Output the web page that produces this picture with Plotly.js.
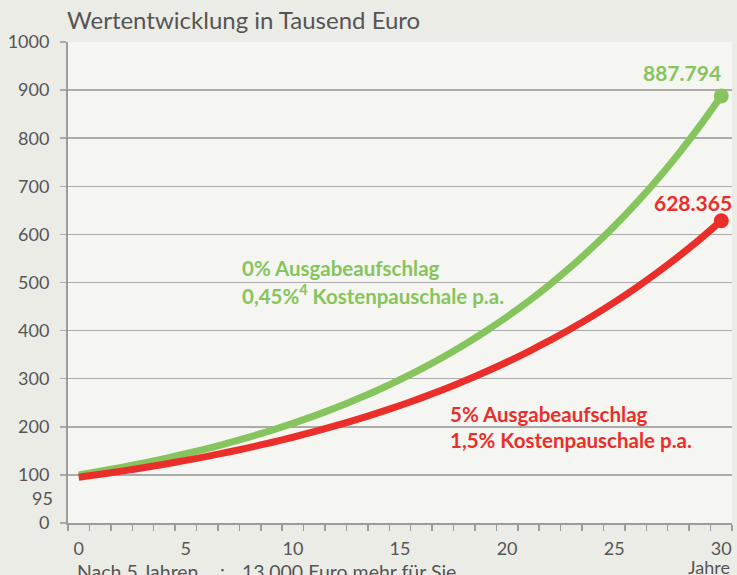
<!DOCTYPE html>
<html>
<head>
<meta charset="utf-8">
<script src="https://cdn.plot.ly/plotly-3.0.1.min.js"></script>
<style>
html,body{margin:0;padding:0;background:#ecece7;}
#chart{width:737px;height:575px;}
</style>
</head>
<body>
<div id="chart"></div>
<script>
// Data
var years = [0,1,2,3,4,5,6,7,8,9,10,11,12,13,14,15,16,17,18,19,20,21,22,23,24,25,26,27,28,29,30];
var greenValues = [100.0,107.6,115.7,124.4,133.8,143.9,154.8,166.4,179.0,192.5,207.1,222.7,239.5,257.6,277.0,298.0,320.5,344.6,370.7,398.7,428.8,461.1,495.9,533.4,573.7,617.0,663.5,713.6,767.5,825.5,887.794];
var redValues = [95.0,101.2,107.8,114.8,122.2,130.2,138.6,147.6,157.2,167.4,178.3,189.9,202.3,215.4,229.4,244.3,260.2,277.1,295.1,314.3,334.7,356.5,379.7,404.4,430.6,458.6,488.4,520.2,554.0,590.0,628.365];
var xTickVals = [0,5,10,15,20,25,30];
var yTickVals = [0,100,200,300,400,500,600,700,800,900,1000];
var greenEndLabel = "887.794";
var redEndLabel = "628.365";
var titleText = "Wertentwicklung in Tausend Euro";
var greenText1 = "0% Ausgabeaufschlag";
var greenText2 = "0,45%<sup>4</sup> Kostenpauschale p.a.";
var redText1 = "5% Ausgabeaufschlag";
var redText2 = "1,5% Kostenpauschale p.a.";

var GREEN = "#86c45e";
var RED = "#ec2e2b";
var GREY = "#555555";
var FONT = "Lato, 'Open Sans', sans-serif";

var lastIdx = years.length - 1;

var traces = [
  {x: years, y: greenValues, type: "scatter", mode: "lines",
   line: {color: GREEN, width: 7, shape: "spline", smoothing: 0.6}, hoverinfo: "skip"},
  {x: years, y: redValues, type: "scatter", mode: "lines",
   line: {color: RED, width: 7, shape: "spline", smoothing: 0.6}, hoverinfo: "skip"},
  {x: [years[lastIdx]], y: [greenValues[lastIdx]], type: "scatter", mode: "markers",
   marker: {color: GREEN, size: 15}, hoverinfo: "skip"},
  {x: [years[lastIdx]], y: [redValues[lastIdx]], type: "scatter", mode: "markers",
   marker: {color: RED, size: 15}, hoverinfo: "skip"}
];

var layout = {
  width: 737, height: 575,
  margin: {l: 68, r: 5, t: 42, b: 52, pad: 0},
  paper_bgcolor: "#ecece7",
  plot_bgcolor: "#f5f5f1",
  showlegend: false,
  font: {family: FONT, color: GREY, size: 18},
  title: {text: titleText, x: 67/737, xanchor: "left", xref: "container",
          y: 1 - 21/575, yanchor: "middle", yref: "container",
          font: {family: FONT, size: 24, color: GREY}},
  xaxis: {
    range: [-0.5, 30.5], tickmode: "array", tickvals: xTickVals,
    ticks: "", showgrid: false, zeroline: false,
    showline: true, linecolor: "#9c9c9c", linewidth: 2,
    tickfont: {family: FONT, size: 18, color: GREY},
    ticklabelstandoff: 8,
    minor: {tickmode: "linear", tick0: -0.5, dtick: 1, ticks: "outside", ticklen: 6,
            tickcolor: "#9c9c9c", tickwidth: 1.5, showgrid: false},
    fixedrange: true
  },
  yaxis: {
    range: [0, 1000], tickmode: "array", tickvals: yTickVals,
    ticks: "outside", ticklen: 6, tickcolor: "#ababab", tickwidth: 1.5,
    showgrid: true, gridcolor: "#ababab", gridwidth: 1.5,
    zeroline: false, showline: true, linecolor: "#9c9c9c", linewidth: 2,
    tickfont: {family: FONT, size: 18, color: GREY},
    ticklabelstandoff: 7,
    fixedrange: true
  },
  annotations: [
    {text: "95", xref: "paper", yref: "y", x: 0, y: 52, xanchor: "right", yanchor: "middle",
     xshift: -13, showarrow: false, font: {family: FONT, size: 18, color: GREY}},
    {text: "<b>" + greenEndLabel + "</b>", xref: "x", yref: "y", x: 28.17, y: 937,
     xanchor: "center", yanchor: "middle", showarrow: false, font: {family: FONT, size: 21, color: GREEN}},
    {text: "<b>" + redEndLabel + "</b>", xref: "x", yref: "y", x: 28.68, y: 667,
     xanchor: "center", yanchor: "middle", showarrow: false, font: {family: FONT, size: 21, color: RED}},
    {text: "<b>" + greenText1 + "</b>", xref: "x", yref: "y", x: 7.53, y: 531,
     xanchor: "left", yanchor: "middle", showarrow: false, font: {family: FONT, size: 20.5, color: GREEN}},
    {text: "<b>" + greenText2 + "</b>", xref: "x", yref: "y", x: 7.53, y: 475,
     xanchor: "left", yanchor: "middle", showarrow: false, font: {family: FONT, size: 20.5, color: GREEN}},
    {text: "<b>" + redText1 + "</b>", xref: "x", yref: "y", x: 17.24, y: 227,
     xanchor: "left", yanchor: "middle", showarrow: false, font: {family: FONT, size: 20.5, color: RED}},
    {text: "<b>" + redText2 + "</b>", xref: "x", yref: "y", x: 17.24, y: 173,
     xanchor: "left", yanchor: "middle", showarrow: false, font: {family: FONT, size: 20.5, color: RED}},
    {text: "Jahre", xref: "paper", yref: "paper", x: 1, y: -0.092, xanchor: "right", yanchor: "middle",
     showarrow: false, font: {family: FONT, size: 18, color: GREY}},
    {text: "Nach 5 Jahren", xref: "paper", yref: "paper", x: 0.0105, y: -0.1, xanchor: "left", yanchor: "middle",
     showarrow: false, font: {family: FONT, size: 19.5, color: GREY}},
    {text: ":", xref: "paper", yref: "paper", x: 0.2334, y: -0.1, xanchor: "center", yanchor: "middle",
     showarrow: false, font: {family: FONT, size: 19.5, color: GREY}},
    {text: "13.000 Euro mehr für Sie", xref: "paper", yref: "paper", x: 0.259, y: -0.1, xanchor: "left", yanchor: "middle",
     showarrow: false, font: {family: FONT, size: 19.5, color: GREY}}
  ]
};

Plotly.newPlot("chart", traces, layout, {displayModeBar: false, staticPlot: true});
</script>
</body>
</html>
